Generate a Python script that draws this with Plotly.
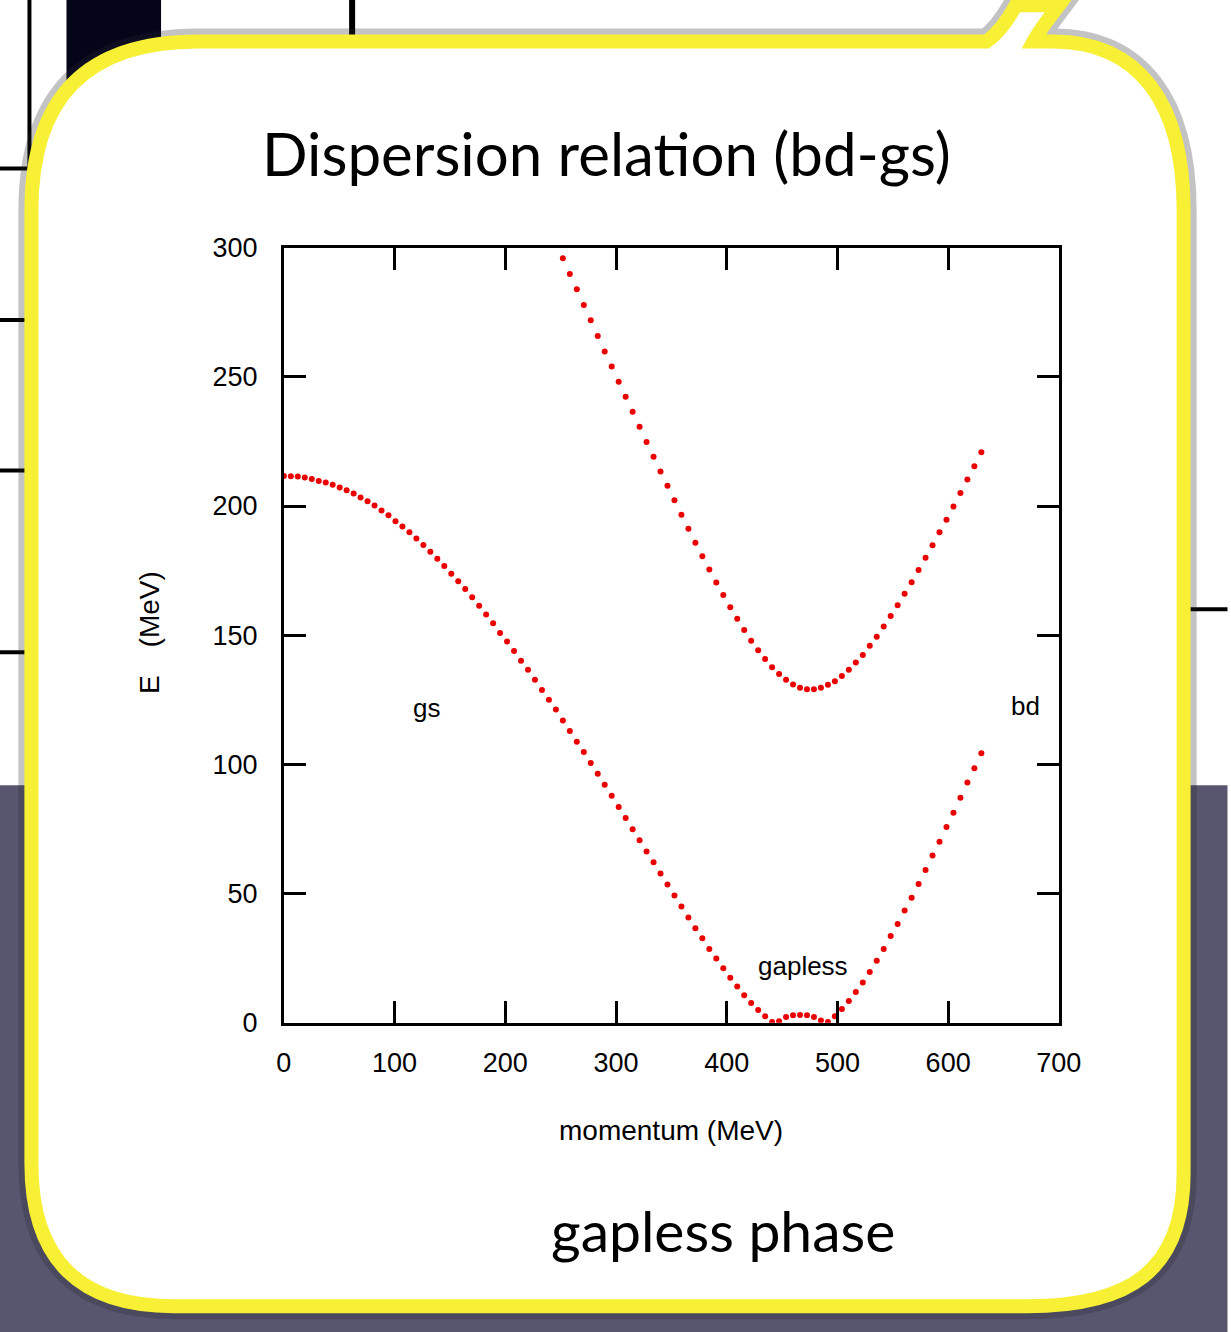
import plotly.graph_objects as go

W, H = 1231, 1332

# ---------------- data ----------------
momentum = [0.0, 6.3, 12.6, 18.9, 25.2, 31.5, 37.8, 44.1, 50.4, 56.7,
            63.0, 69.3, 75.6, 81.9, 88.2, 94.5, 100.8, 107.1, 113.4, 119.7,
            126.0, 132.3, 138.6, 144.9, 151.2, 157.5, 163.8, 170.1, 176.4, 182.7,
            189.0, 195.3, 201.6, 207.9, 214.2, 220.5, 226.8, 233.1, 239.4, 245.7,
            252.0, 258.3, 264.6, 270.9, 277.2, 283.5, 289.8, 296.1, 302.4, 308.7,
            315.0, 321.3, 327.6, 333.9, 340.2, 346.5, 352.8, 359.1, 365.4, 371.7,
            378.0, 384.3, 390.6, 396.9, 403.2, 409.5, 415.8, 422.1, 428.4, 434.7,
            441.0, 447.3, 453.6, 459.9, 466.2, 472.5, 478.8, 485.1, 491.4, 497.7,
            504.0, 510.3, 516.6, 522.9, 529.2, 535.5, 541.8, 548.1, 554.4, 560.7,
            567.0, 573.3, 579.6, 585.9, 592.2, 598.5, 604.8, 611.1, 617.4, 623.7,
            630.0]

energy_gs = [211.6, 211.5, 211.4, 211.0, 210.5, 209.7, 209.1, 208.2, 207.2, 206.1,
             204.8, 203.3, 201.8, 200.2, 198.3, 196.4, 194.1, 192.1, 189.8, 187.4,
             184.9, 182.3, 179.6, 176.8, 173.8, 170.9, 167.9, 164.7, 161.4, 158.0,
             154.6, 150.9, 147.6, 143.9, 140.1, 136.6, 132.8, 128.8, 125.0, 121.2,
             117.0, 112.9, 108.8, 104.8, 100.5, 96.4, 92.1, 87.9, 83.5, 79.3,
             74.9, 70.6, 66.3, 62.1, 57.8, 53.5, 49.3, 45.0, 40.7, 36.6,
             32.7, 28.6, 24.9, 21.1, 17.4, 14.0, 10.7, 7.7, 4.9, 2.5,
             0.3, 0.6, 2.2, 2.9, 3.0, 2.9, 2.2, 0.9, 0.3, 2.5,
             5.3, 8.4, 11.9, 15.6, 19.7, 24.0, 28.6, 33.6, 38.2, 43.5,
             48.4, 53.7, 59.1, 64.7, 70.1, 75.8, 81.3, 87.1, 93.0, 98.5,
             104.3]

momentum_bd = momentum[40:]
energy_bd = [295.9, 289.8, 283.9, 277.8, 271.9, 265.8, 259.8, 254.0, 248.1, 242.3,
             236.5, 230.7, 224.8, 219.1, 213.4, 207.8, 202.2, 196.6, 191.2, 185.8,
             180.6, 175.4, 170.4, 165.6, 160.8, 156.4, 152.0, 147.9, 144.2, 140.8,
             137.6, 135.0, 132.8, 130.9, 129.7, 129.1, 129.1, 129.7, 130.8, 132.2,
             134.2, 136.6, 139.4, 142.3, 145.9, 149.4, 153.4, 157.4, 161.6, 166.0,
             170.5, 175.2, 180.0, 184.8, 189.8, 194.7, 199.8, 205.0, 210.3, 215.4,
             220.8]

x_ticks = [0, 100, 200, 300, 400, 500, 600, 700]
y_ticks = [0, 50, 100, 150, 200, 250, 300]

labels = [("gs", 129, 122), ("bd", 670, 122.5), ("gapless", 469, 22)]

# ---------------- helpers: page pixel -> paper fraction ----------------
def fx(x):
    return x / W

def fy(y):
    return 1 - y / H

def px(x, y):
    return f"{fx(x):.5f},{fy(y):.5f}"

def path(cmds):
    out = []
    for c in cmds:
        op, pts = c[0], c[1:]
        out.append(op + " " + " ".join(px(*p) for p in pts))
    return " ".join(out) + " Z"

bubble = path([
    ("M", (24, 200)),
    ("C", (24, 85), (80, 27), (195, 27)),
    ("L", (1004, 27)),
    ("C", (1014, 20), (1024, 8), (1034, -10)),
    ("L", (1078, -10)),
    ("C", (1066, 6), (1058, 16), (1052, 27)),
    ("L", (1072, 27)),
    ("C", (1160, 27), (1206, 90), (1206, 200)),
    ("L", (1206, 1185)),
    ("C", (1206, 1285), (1150, 1321), (1045, 1321)),
    ("L", (170, 1321)),
    ("C", (75, 1321), (24, 1275), (24, 1175)),
])

def rect(x0, y0, x1, y1, color):
    return dict(type="rect", xref="paper", yref="paper", layer="below",
                x0=fx(x0), x1=fx(x1), y0=fy(y1), y1=fy(y0),
                fillcolor=color, line=dict(width=0))

def line(x0, y0, x1, y1, color="black", w=4):
    return dict(type="line", xref="paper", yref="paper", layer="below",
                x0=fx(x0), x1=fx(x1), y0=fy(y0), y1=fy(y1),
                line=dict(color=color, width=w))

shapes = [
    rect(-20, 788, W + 20, H + 20, "#58566e"),
    rect(60, -20, 157, 80, "#05051a"),
    line(22, -20, 22, 157),
    line(-20, 157, 22, 157),
    line(-20, 312, 22, 312),
    line(-20, 466, 22, 466),
    line(-20, 652, 22, 652),
    line(353, -20, 353, 30, w=6),
    line(1206, 608, W + 20, 608),
    dict(type="path", xref="paper", yref="paper", layer="below", path=bubble,
         fillcolor="rgba(0,0,0,0)", line=dict(color="rgba(40,40,50,0.28)", width=26)),
    dict(type="path", xref="paper", yref="paper", layer="below", path=bubble,
         fillcolor="white", line=dict(color="#f7f034", width=14)),
]

# ---------------- figure ----------------
fig = go.Figure()
fig.add_trace(go.Scatter(x=momentum, y=energy_gs, mode="markers",
                         marker=dict(color="rgb(235,0,0)", size=6), showlegend=False))
fig.add_trace(go.Scatter(x=momentum_bd, y=energy_bd, mode="markers",
                         marker=dict(color="rgb(235,0,0)", size=6), showlegend=False))

tickfont = dict(family="Liberation Sans, Arial, sans-serif", size=27, color="black")
axis_common = dict(showgrid=False, zeroline=False, showline=True, linecolor="black",
                   linewidth=3, mirror="ticks", ticks="inside", ticklen=22,
                   tickwidth=3, tickcolor="black", tickfont=tickfont)

fig.update_layout(
    width=W, height=H,
    margin=dict(l=0, r=0, t=0, b=0),
    paper_bgcolor="white",
    plot_bgcolor="rgba(0,0,0,0)",
    xaxis=dict(range=[0, 700], tickvals=x_ticks, domain=[fx(283), fx(1078)],
               ticklabelstandoff=14, **axis_common),
    yaxis=dict(range=[0, 300], tickvals=y_ticks, domain=[fy(1031), fy(238)],
               ticklabelstandoff=18, **axis_common),
    shapes=shapes,
)

annotations = [
    dict(text="Dispersion relation (bd-gs)", x=fx(614), y=fy(141),
         font=dict(family="Gill Sans, Lato, sans-serif", size=60, color="black")),
    dict(text="gapless phase", x=fx(733), y=fy(1243),
         font=dict(family="Gill Sans, Lato, sans-serif", size=57, color="black")),
    dict(text="momentum (MeV)", x=fx(680), y=fy(1141),
         font=dict(family="Liberation Sans, Arial, sans-serif", size=28, color="black")),
    dict(text="E\u3000(MeV)", x=fx(145), y=fy(632), textangle=-90,
         font=dict(family="Liberation Sans, Arial, sans-serif", size=28, color="black")),
]
for a in annotations:
    a.update(xref="paper", yref="paper", showarrow=False, xanchor="center", yanchor="middle")

for txt, xv, yv in labels:
    annotations.append(dict(text=txt, x=xv, y=yv, xref="x", yref="y", showarrow=False,
                            font=dict(family="Liberation Sans, Arial, sans-serif", size=26,
                                      color="black")))

fig.update_layout(annotations=annotations)

fig.write_html("out.html")
